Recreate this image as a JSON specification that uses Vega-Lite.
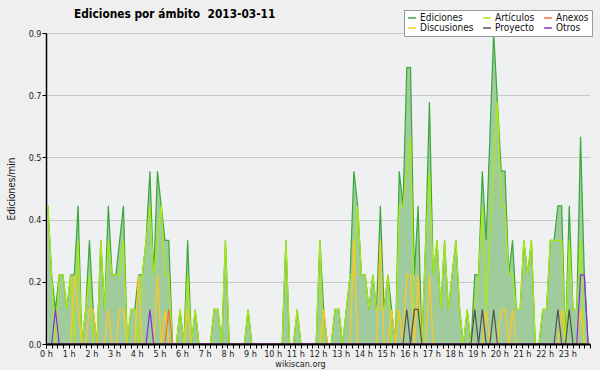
{
"$schema": "https://vega.github.io/schema/vega-lite/v6.json",
"width": 544, "height": 311,
"autosize": "none",
"padding": {"left": 46, "top": 33, "right": 10, "bottom": 26},
"background": "#efefef",
"title": {"text": "Ediciones por ámbito\u00a0\u00a02013-03-11", "frame": "group", "anchor": "start", "dx": 28, "offset": 0, "dy": 11, "fontSize": 11.8, "font": "DejaVu Sans Condensed", "fontWeight": "bold", "color": "#000000"},
"config": {
 "view": {"stroke": null, "fill": "#eef0f1"},
 "axisX": {"labelOverlap": false, "labelFlush": false, "labelFont": "DejaVu Sans Condensed", "labelFontSize": 9, "labelColor": "#222222", "labelPadding": 1,
  "tickColor": "#000000", "tickSize": 4, "domainColor": "#000000", "domainWidth": 2, "grid": false, "zindex": 1,
  "titleFont": "DejaVu Sans Condensed", "titleFontSize": 9, "titleFontWeight": "normal", "titleColor": "#222222", "titlePadding": 1},
 "axisY": {"labelOverlap": false, "grid": true, "gridColor": "#c8c8c8", "gridWidth": 1,
  "labelFont": "DejaVu Sans Condensed", "labelFontSize": 9, "labelColor": "#222222", "labelPadding": 1,
  "tickColor": "#000000", "tickSize": 4, "domainColor": "#000000", "domainWidth": 1.5,
  "titleFont": "DejaVu Sans Condensed", "titleFontSize": 10, "titleFontWeight": "normal", "titleColor": "#111111", "titlePadding": 12}
},
"data": {"values": [
{"m":5,"Ediciones":0.4,"Artículos":0.4,"Discusiones":0,"Anexos":0,"Proyecto":0,"Otros":0},
{"m":15,"Ediciones":0.2,"Artículos":0.2,"Discusiones":0,"Anexos":0,"Proyecto":0,"Otros":0},
{"m":25,"Ediciones":0.1,"Artículos":0,"Discusiones":0,"Anexos":0,"Proyecto":0,"Otros":0.1},
{"m":35,"Ediciones":0.2,"Artículos":0.2,"Discusiones":0,"Anexos":0,"Proyecto":0,"Otros":0},
{"m":45,"Ediciones":0.2,"Artículos":0.2,"Discusiones":0,"Anexos":0,"Proyecto":0,"Otros":0},
{"m":55,"Ediciones":0.1,"Artículos":0.1,"Discusiones":0,"Anexos":0,"Proyecto":0,"Otros":0},
{"m":65,"Ediciones":0.2,"Artículos":0.2,"Discusiones":0,"Anexos":0,"Proyecto":0,"Otros":0},
{"m":75,"Ediciones":0.2,"Artículos":0,"Discusiones":0.2,"Anexos":0,"Proyecto":0,"Otros":0},
{"m":85,"Ediciones":0.4,"Artículos":0.3,"Discusiones":0.1,"Anexos":0,"Proyecto":0,"Otros":0},
{"m":95,"Ediciones":0,"Artículos":0,"Discusiones":0,"Anexos":0,"Proyecto":0,"Otros":0},
{"m":105,"Ediciones":0.1,"Artículos":0.1,"Discusiones":0,"Anexos":0,"Proyecto":0,"Otros":0},
{"m":115,"Ediciones":0.3,"Artículos":0.2,"Discusiones":0.1,"Anexos":0,"Proyecto":0,"Otros":0},
{"m":125,"Ediciones":0.1,"Artículos":0,"Discusiones":0.1,"Anexos":0,"Proyecto":0,"Otros":0},
{"m":135,"Ediciones":0,"Artículos":0,"Discusiones":0,"Anexos":0,"Proyecto":0,"Otros":0},
{"m":145,"Ediciones":0.3,"Artículos":0.3,"Discusiones":0,"Anexos":0,"Proyecto":0,"Otros":0},
{"m":155,"Ediciones":0.1,"Artículos":0.1,"Discusiones":0,"Anexos":0,"Proyecto":0,"Otros":0},
{"m":165,"Ediciones":0.4,"Artículos":0.3,"Discusiones":0.1,"Anexos":0,"Proyecto":0,"Otros":0},
{"m":175,"Ediciones":0.2,"Artículos":0.2,"Discusiones":0,"Anexos":0,"Proyecto":0,"Otros":0},
{"m":185,"Ediciones":0.2,"Artículos":0.2,"Discusiones":0,"Anexos":0,"Proyecto":0,"Otros":0},
{"m":195,"Ediciones":0.3,"Artículos":0.2,"Discusiones":0.1,"Anexos":0,"Proyecto":0,"Otros":0},
{"m":205,"Ediciones":0.4,"Artículos":0.3,"Discusiones":0.1,"Anexos":0,"Proyecto":0,"Otros":0},
{"m":215,"Ediciones":0,"Artículos":0,"Discusiones":0,"Anexos":0,"Proyecto":0,"Otros":0},
{"m":225,"Ediciones":0.1,"Artículos":0.1,"Discusiones":0,"Anexos":0,"Proyecto":0,"Otros":0},
{"m":235,"Ediciones":0.1,"Artículos":0.1,"Discusiones":0,"Anexos":0,"Proyecto":0,"Otros":0},
{"m":245,"Ediciones":0.2,"Artículos":0,"Discusiones":0.2,"Anexos":0,"Proyecto":0,"Otros":0},
{"m":255,"Ediciones":0.2,"Artículos":0.2,"Discusiones":0,"Anexos":0,"Proyecto":0,"Otros":0},
{"m":265,"Ediciones":0.3,"Artículos":0.3,"Discusiones":0,"Anexos":0,"Proyecto":0,"Otros":0},
{"m":275,"Ediciones":0.5,"Artículos":0.4,"Discusiones":0,"Anexos":0,"Proyecto":0,"Otros":0.1},
{"m":285,"Ediciones":0.2,"Artículos":0.2,"Discusiones":0,"Anexos":0,"Proyecto":0,"Otros":0},
{"m":295,"Ediciones":0.5,"Artículos":0.3,"Discusiones":0.2,"Anexos":0,"Proyecto":0,"Otros":0},
{"m":305,"Ediciones":0.4,"Artículos":0.4,"Discusiones":0,"Anexos":0,"Proyecto":0,"Otros":0},
{"m":315,"Ediciones":0.3,"Artículos":0.2,"Discusiones":0.1,"Anexos":0,"Proyecto":0,"Otros":0},
{"m":325,"Ediciones":0.3,"Artículos":0.2,"Discusiones":0,"Anexos":0.1,"Proyecto":0,"Otros":0},
{"m":335,"Ediciones":0,"Artículos":0,"Discusiones":0,"Anexos":0,"Proyecto":0,"Otros":0},
{"m":345,"Ediciones":0,"Artículos":0,"Discusiones":0,"Anexos":0,"Proyecto":0,"Otros":0},
{"m":355,"Ediciones":0.1,"Artículos":0.1,"Discusiones":0,"Anexos":0,"Proyecto":0,"Otros":0},
{"m":365,"Ediciones":0,"Artículos":0,"Discusiones":0,"Anexos":0,"Proyecto":0,"Otros":0},
{"m":375,"Ediciones":0.3,"Artículos":0.2,"Discusiones":0.1,"Anexos":0,"Proyecto":0,"Otros":0},
{"m":385,"Ediciones":0,"Artículos":0,"Discusiones":0,"Anexos":0,"Proyecto":0,"Otros":0},
{"m":395,"Ediciones":0.1,"Artículos":0.1,"Discusiones":0,"Anexos":0,"Proyecto":0,"Otros":0},
{"m":405,"Ediciones":0,"Artículos":0,"Discusiones":0,"Anexos":0,"Proyecto":0,"Otros":0},
{"m":415,"Ediciones":0,"Artículos":0,"Discusiones":0,"Anexos":0,"Proyecto":0,"Otros":0},
{"m":425,"Ediciones":0,"Artículos":0,"Discusiones":0,"Anexos":0,"Proyecto":0,"Otros":0},
{"m":435,"Ediciones":0,"Artículos":0,"Discusiones":0,"Anexos":0,"Proyecto":0,"Otros":0},
{"m":445,"Ediciones":0.1,"Artículos":0.1,"Discusiones":0,"Anexos":0,"Proyecto":0,"Otros":0},
{"m":455,"Ediciones":0.1,"Artículos":0.1,"Discusiones":0,"Anexos":0,"Proyecto":0,"Otros":0},
{"m":465,"Ediciones":0,"Artículos":0,"Discusiones":0,"Anexos":0,"Proyecto":0,"Otros":0},
{"m":475,"Ediciones":0.3,"Artículos":0.3,"Discusiones":0,"Anexos":0,"Proyecto":0,"Otros":0},
{"m":485,"Ediciones":0,"Artículos":0,"Discusiones":0,"Anexos":0,"Proyecto":0,"Otros":0},
{"m":495,"Ediciones":0,"Artículos":0,"Discusiones":0,"Anexos":0,"Proyecto":0,"Otros":0},
{"m":505,"Ediciones":0,"Artículos":0,"Discusiones":0,"Anexos":0,"Proyecto":0,"Otros":0},
{"m":515,"Ediciones":0,"Artículos":0,"Discusiones":0,"Anexos":0,"Proyecto":0,"Otros":0},
{"m":525,"Ediciones":0,"Artículos":0,"Discusiones":0,"Anexos":0,"Proyecto":0,"Otros":0},
{"m":535,"Ediciones":0.1,"Artículos":0.1,"Discusiones":0,"Anexos":0,"Proyecto":0,"Otros":0},
{"m":545,"Ediciones":0,"Artículos":0,"Discusiones":0,"Anexos":0,"Proyecto":0,"Otros":0},
{"m":555,"Ediciones":0,"Artículos":0,"Discusiones":0,"Anexos":0,"Proyecto":0,"Otros":0},
{"m":565,"Ediciones":0,"Artículos":0,"Discusiones":0,"Anexos":0,"Proyecto":0,"Otros":0},
{"m":575,"Ediciones":0,"Artículos":0,"Discusiones":0,"Anexos":0,"Proyecto":0,"Otros":0},
{"m":585,"Ediciones":0,"Artículos":0,"Discusiones":0,"Anexos":0,"Proyecto":0,"Otros":0},
{"m":595,"Ediciones":0,"Artículos":0,"Discusiones":0,"Anexos":0,"Proyecto":0,"Otros":0},
{"m":605,"Ediciones":0,"Artículos":0,"Discusiones":0,"Anexos":0,"Proyecto":0,"Otros":0},
{"m":615,"Ediciones":0,"Artículos":0,"Discusiones":0,"Anexos":0,"Proyecto":0,"Otros":0},
{"m":625,"Ediciones":0,"Artículos":0,"Discusiones":0,"Anexos":0,"Proyecto":0,"Otros":0},
{"m":635,"Ediciones":0.3,"Artículos":0.3,"Discusiones":0,"Anexos":0,"Proyecto":0,"Otros":0},
{"m":645,"Ediciones":0,"Artículos":0,"Discusiones":0,"Anexos":0,"Proyecto":0,"Otros":0},
{"m":655,"Ediciones":0,"Artículos":0,"Discusiones":0,"Anexos":0,"Proyecto":0,"Otros":0},
{"m":665,"Ediciones":0.1,"Artículos":0.1,"Discusiones":0,"Anexos":0,"Proyecto":0,"Otros":0},
{"m":675,"Ediciones":0,"Artículos":0,"Discusiones":0,"Anexos":0,"Proyecto":0,"Otros":0},
{"m":685,"Ediciones":0,"Artículos":0,"Discusiones":0,"Anexos":0,"Proyecto":0,"Otros":0},
{"m":695,"Ediciones":0,"Artículos":0,"Discusiones":0,"Anexos":0,"Proyecto":0,"Otros":0},
{"m":705,"Ediciones":0,"Artículos":0,"Discusiones":0,"Anexos":0,"Proyecto":0,"Otros":0},
{"m":715,"Ediciones":0,"Artículos":0,"Discusiones":0,"Anexos":0,"Proyecto":0,"Otros":0},
{"m":725,"Ediciones":0.3,"Artículos":0.3,"Discusiones":0,"Anexos":0,"Proyecto":0,"Otros":0},
{"m":735,"Ediciones":0.1,"Artículos":0,"Discusiones":0.1,"Anexos":0,"Proyecto":0,"Otros":0},
{"m":745,"Ediciones":0,"Artículos":0,"Discusiones":0,"Anexos":0,"Proyecto":0,"Otros":0},
{"m":755,"Ediciones":0,"Artículos":0,"Discusiones":0,"Anexos":0,"Proyecto":0,"Otros":0},
{"m":765,"Ediciones":0.1,"Artículos":0.1,"Discusiones":0,"Anexos":0,"Proyecto":0,"Otros":0},
{"m":775,"Ediciones":0.1,"Artículos":0.1,"Discusiones":0,"Anexos":0,"Proyecto":0,"Otros":0},
{"m":785,"Ediciones":0,"Artículos":0,"Discusiones":0,"Anexos":0,"Proyecto":0,"Otros":0},
{"m":795,"Ediciones":0.1,"Artículos":0.1,"Discusiones":0,"Anexos":0,"Proyecto":0,"Otros":0},
{"m":805,"Ediciones":0.2,"Artículos":0.2,"Discusiones":0,"Anexos":0,"Proyecto":0,"Otros":0},
{"m":815,"Ediciones":0.5,"Artículos":0.2,"Discusiones":0.3,"Anexos":0,"Proyecto":0,"Otros":0},
{"m":825,"Ediciones":0.4,"Artículos":0.4,"Discusiones":0,"Anexos":0,"Proyecto":0,"Otros":0},
{"m":835,"Ediciones":0.2,"Artículos":0.2,"Discusiones":0,"Anexos":0,"Proyecto":0,"Otros":0},
{"m":845,"Ediciones":0.2,"Artículos":0.2,"Discusiones":0,"Anexos":0,"Proyecto":0,"Otros":0},
{"m":855,"Ediciones":0.1,"Artículos":0.1,"Discusiones":0,"Anexos":0,"Proyecto":0,"Otros":0},
{"m":865,"Ediciones":0.2,"Artículos":0.2,"Discusiones":0,"Anexos":0,"Proyecto":0,"Otros":0},
{"m":875,"Ediciones":0.1,"Artículos":0.1,"Discusiones":0,"Anexos":0,"Proyecto":0,"Otros":0},
{"m":885,"Ediciones":0.4,"Artículos":0.1,"Discusiones":0.3,"Anexos":0,"Proyecto":0,"Otros":0},
{"m":895,"Ediciones":0.1,"Artículos":0.1,"Discusiones":0,"Anexos":0,"Proyecto":0,"Otros":0},
{"m":905,"Ediciones":0.2,"Artículos":0.2,"Discusiones":0,"Anexos":0,"Proyecto":0,"Otros":0},
{"m":915,"Ediciones":0.1,"Artículos":0,"Discusiones":0.1,"Anexos":0,"Proyecto":0,"Otros":0},
{"m":925,"Ediciones":0,"Artículos":0,"Discusiones":0,"Anexos":0,"Proyecto":0,"Otros":0},
{"m":935,"Ediciones":0.5,"Artículos":0.4,"Discusiones":0.1,"Anexos":0,"Proyecto":0,"Otros":0},
{"m":945,"Ediciones":0.4,"Artículos":0.4,"Discusiones":0,"Anexos":0,"Proyecto":0,"Otros":0},
{"m":955,"Ediciones":0.8,"Artículos":0.5,"Discusiones":0.2,"Anexos":0,"Proyecto":0.1,"Otros":0},
{"m":965,"Ediciones":0.8,"Artículos":0.6,"Discusiones":0.2,"Anexos":0,"Proyecto":0,"Otros":0},
{"m":975,"Ediciones":0.2,"Artículos":0.1,"Discusiones":0,"Anexos":0,"Proyecto":0.1,"Otros":0},
{"m":985,"Ediciones":0.4,"Artículos":0.1,"Discusiones":0.2,"Anexos":0,"Proyecto":0.1,"Otros":0},
{"m":995,"Ediciones":0,"Artículos":0,"Discusiones":0,"Anexos":0,"Proyecto":0,"Otros":0},
{"m":1005,"Ediciones":0.3,"Artículos":0.3,"Discusiones":0,"Anexos":0,"Proyecto":0,"Otros":0},
{"m":1015,"Ediciones":0.7,"Artículos":0.5,"Discusiones":0.2,"Anexos":0,"Proyecto":0,"Otros":0},
{"m":1025,"Ediciones":0.2,"Artículos":0.2,"Discusiones":0,"Anexos":0,"Proyecto":0,"Otros":0},
{"m":1035,"Ediciones":0.3,"Artículos":0.3,"Discusiones":0,"Anexos":0,"Proyecto":0,"Otros":0},
{"m":1045,"Ediciones":0.1,"Artículos":0.1,"Discusiones":0,"Anexos":0,"Proyecto":0,"Otros":0},
{"m":1055,"Ediciones":0.3,"Artículos":0.3,"Discusiones":0,"Anexos":0,"Proyecto":0,"Otros":0},
{"m":1065,"Ediciones":0.1,"Artículos":0.1,"Discusiones":0,"Anexos":0,"Proyecto":0,"Otros":0},
{"m":1075,"Ediciones":0.2,"Artículos":0.2,"Discusiones":0,"Anexos":0,"Proyecto":0,"Otros":0},
{"m":1085,"Ediciones":0.3,"Artículos":0.3,"Discusiones":0,"Anexos":0,"Proyecto":0,"Otros":0},
{"m":1095,"Ediciones":0.1,"Artículos":0.1,"Discusiones":0,"Anexos":0,"Proyecto":0,"Otros":0},
{"m":1105,"Ediciones":0,"Artículos":0,"Discusiones":0,"Anexos":0,"Proyecto":0,"Otros":0},
{"m":1115,"Ediciones":0.1,"Artículos":0.1,"Discusiones":0,"Anexos":0,"Proyecto":0,"Otros":0},
{"m":1125,"Ediciones":0,"Artículos":0,"Discusiones":0,"Anexos":0,"Proyecto":0,"Otros":0},
{"m":1135,"Ediciones":0.2,"Artículos":0.1,"Discusiones":0,"Anexos":0,"Proyecto":0.1,"Otros":0},
{"m":1145,"Ediciones":0.2,"Artículos":0.2,"Discusiones":0,"Anexos":0,"Proyecto":0,"Otros":0},
{"m":1155,"Ediciones":0.5,"Artículos":0.4,"Discusiones":0,"Anexos":0,"Proyecto":0.1,"Otros":0},
{"m":1165,"Ediciones":0.3,"Artículos":0.1,"Discusiones":0.1,"Anexos":0,"Proyecto":0,"Otros":0},
{"m":1175,"Ediciones":0.6,"Artículos":0.3,"Discusiones":0,"Anexos":0,"Proyecto":0,"Otros":0},
{"m":1185,"Ediciones":0.9,"Artículos":0.5,"Discusiones":0,"Anexos":0,"Proyecto":0.1,"Otros":0},
{"m":1195,"Ediciones":0.7,"Artículos":0.7,"Discusiones":0,"Anexos":0,"Proyecto":0,"Otros":0},
{"m":1205,"Ediciones":0.5,"Artículos":0.4,"Discusiones":0.1,"Anexos":0,"Proyecto":0,"Otros":0},
{"m":1215,"Ediciones":0.5,"Artículos":0.4,"Discusiones":0.1,"Anexos":0,"Proyecto":0,"Otros":0},
{"m":1225,"Ediciones":0.2,"Artículos":0.2,"Discusiones":0,"Anexos":0,"Proyecto":0,"Otros":0},
{"m":1235,"Ediciones":0.3,"Artículos":0.2,"Discusiones":0.1,"Anexos":0,"Proyecto":0,"Otros":0},
{"m":1245,"Ediciones":0.1,"Artículos":0.1,"Discusiones":0,"Anexos":0,"Proyecto":0,"Otros":0},
{"m":1255,"Ediciones":0.1,"Artículos":0.1,"Discusiones":0,"Anexos":0,"Proyecto":0,"Otros":0},
{"m":1265,"Ediciones":0.3,"Artículos":0.3,"Discusiones":0,"Anexos":0,"Proyecto":0,"Otros":0},
{"m":1275,"Ediciones":0.2,"Artículos":0.2,"Discusiones":0,"Anexos":0,"Proyecto":0,"Otros":0},
{"m":1285,"Ediciones":0.3,"Artículos":0.3,"Discusiones":0,"Anexos":0,"Proyecto":0,"Otros":0},
{"m":1295,"Ediciones":0,"Artículos":0,"Discusiones":0,"Anexos":0,"Proyecto":0,"Otros":0},
{"m":1305,"Ediciones":0,"Artículos":0,"Discusiones":0,"Anexos":0,"Proyecto":0,"Otros":0},
{"m":1315,"Ediciones":0.1,"Artículos":0.1,"Discusiones":0,"Anexos":0,"Proyecto":0,"Otros":0},
{"m":1325,"Ediciones":0.1,"Artículos":0.1,"Discusiones":0,"Anexos":0,"Proyecto":0,"Otros":0},
{"m":1335,"Ediciones":0.3,"Artículos":0.3,"Discusiones":0,"Anexos":0,"Proyecto":0,"Otros":0},
{"m":1345,"Ediciones":0.3,"Artículos":0.3,"Discusiones":0,"Anexos":0,"Proyecto":0,"Otros":0},
{"m":1355,"Ediciones":0.4,"Artículos":0.3,"Discusiones":0,"Anexos":0,"Proyecto":0.1,"Otros":0},
{"m":1365,"Ediciones":0.4,"Artículos":0.3,"Discusiones":0.1,"Anexos":0,"Proyecto":0,"Otros":0},
{"m":1375,"Ediciones":0,"Artículos":0,"Discusiones":0,"Anexos":0,"Proyecto":0,"Otros":0},
{"m":1385,"Ediciones":0.4,"Artículos":0.3,"Discusiones":0,"Anexos":0,"Proyecto":0.1,"Otros":0},
{"m":1395,"Ediciones":0.1,"Artículos":0.1,"Discusiones":0,"Anexos":0,"Proyecto":0,"Otros":0},
{"m":1405,"Ediciones":0.1,"Artículos":0.1,"Discusiones":0,"Anexos":0,"Proyecto":0,"Otros":0},
{"m":1415,"Ediciones":0.6,"Artículos":0.3,"Discusiones":0.1,"Anexos":0,"Proyecto":0,"Otros":0.2},
{"m":1425,"Ediciones":0.2,"Artículos":0,"Discusiones":0,"Anexos":0,"Proyecto":0,"Otros":0.2},
{"m":1435,"Ediciones":0,"Artículos":0,"Discusiones":0,"Anexos":0,"Proyecto":0,"Otros":0}
]},
"encoding": {
 "x": {"field": "m", "type": "quantitative", "scale": {"domain": [0, 1440], "nice": false},
  "axis": {"values": [0,15,30,45,60,75,90,105,120,135,150,165,180,195,210,225,240,255,270,285,300,315,330,345,360,375,390,405,420,435,450,465,480,495,510,525,540,555,570,585,600,615,630,645,660,675,690,705,720,735,750,765,780,795,810,825,840,855,870,885,900,915,930,945,960,975,990,1005,1020,1035,1050,1065,1080,1095,1110,1125,1140,1155,1170,1185,1200,1215,1230,1245,1260,1275,1290,1305,1320,1335,1350,1365,1380,1395,1410,1425,1440],
   "labelExpr": "datum.value % 60 == 0 && datum.value < 1440 ? (datum.value / 60) + ' h' : ''",
   "title": "wikiscan.org", "titleX": 254, "titleAlign": "center", "zindex": 2}}
},
"layer": [
{"mark": {"type": "area", "color": "#a0cc9d", "interpolate": "linear"},
 "encoding": {
  "y": {"field": "Ediciones", "type": "quantitative", "scale": {"domain": [0, 0.9], "nice": false},
   "axis": {"values": [0, 0.18, 0.36, 0.54, 0.72, 0.9], "format": ".1f", "title": "Ediciones/min"}}
 }},
{"transform": [{"fold": ["Ediciones", "Artículos", "Discusiones", "Anexos", "Proyecto", "Otros"], "as": ["serie", "v"]}],
 "mark": {"type": "line", "strokeWidth": 1.2, "interpolate": "linear"},
 "encoding": {
  "y": {"field": "v", "type": "quantitative",
   "axis": {"values": [0, 0.18, 0.36, 0.54, 0.72, 0.9], "format": ".1f", "title": "Ediciones/min"}},
  "color": {"field": "serie", "type": "nominal",
   "scale": {"domain": ["Ediciones", "Artículos", "Anexos", "Discusiones", "Proyecto", "Otros"], "range": ["#38a838", "#aaea10", "#ff6a2a", "#ffc820", "#505050", "#8a2be2"]},
   "legend": {"orient": "none", "legendX": 358, "legendY": -23, "columns": 3, "direction": "horizontal", "title": null,
    "symbolType": "stroke", "symbolSize": 60, "symbolStrokeWidth": 1.5, "labelFont": "DejaVu Sans Condensed", "labelFontSize": 10, "labelColor": "#111111",
    "fillColor": "#ffffff", "strokeColor": "#999999", "padding": 3, "rowPadding": 0, "columnPadding": 6, "labelOffset": 3}}
 }},
{"data": {"values": [{"t": "CC BY-SA 3.0"}]},
 "mark": {"type": "text", "align": "right", "baseline": "middle", "fontSize": 7, "font": "DejaVu Sans Condensed", "color": "#333333"},
 "encoding": {"x": {"datum": 1440}, "y": {"datum": -0.055}, "text": {"field": "t"}}}
]
}
